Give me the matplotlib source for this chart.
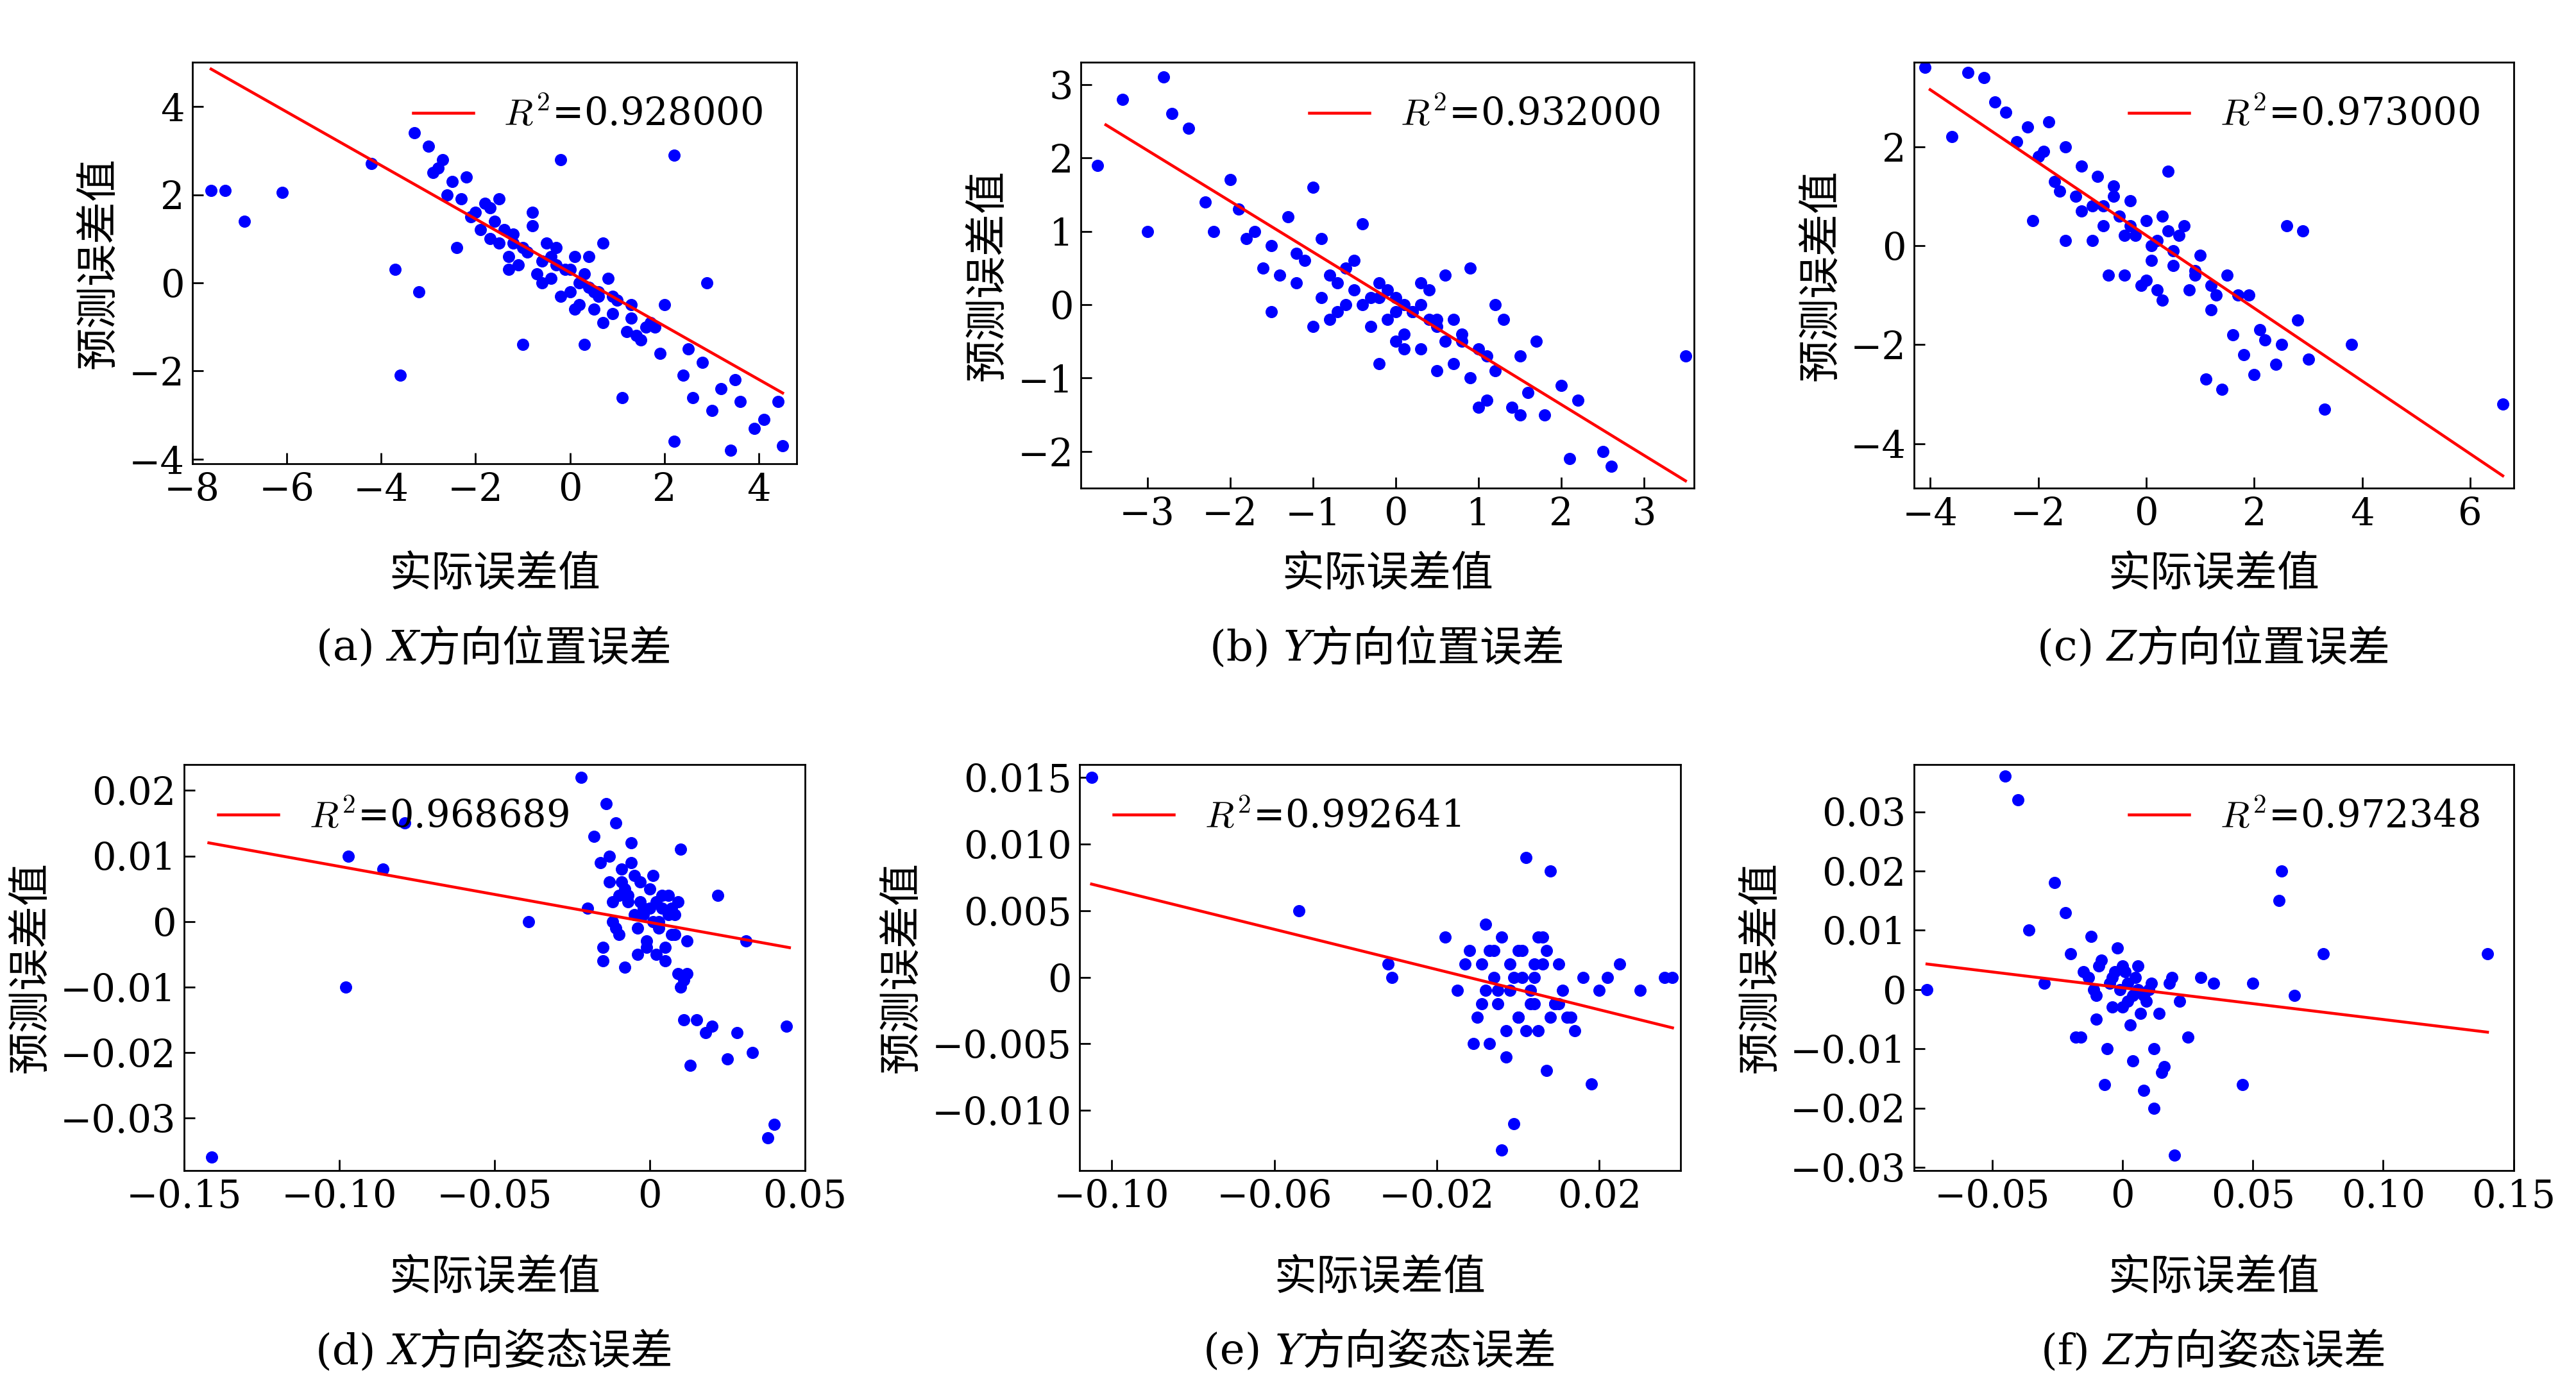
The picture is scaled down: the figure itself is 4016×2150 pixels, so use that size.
import matplotlib.pyplot as plt
from matplotlib.offsetbox import TextArea, HPacker, AnchoredOffsetbox

plt.rcParams['font.family'] = ['DejaVu Serif', 'Noto Sans CJK SC']
plt.rcParams['mathtext.fontset'] = 'cm'
plt.rcParams['font.size'] = 17

# panel (a) X position
xa = [-7.6, -7.3, -6.9, -6.1, -4.2, -3.7, -3.6, -3.2, -3.3, -3.0, -2.9, -2.7, -2.6, -2.5, -2.3, -2.2, -2.0, -1.9,
      -1.8, -1.7, -1.6, -1.5, -1.4, -1.3, -1.2, -1.1, -1.0, -0.9, -0.8, -0.7, -0.6, -0.5, -0.4, -0.3, -0.2, -0.1,
      0.0, 0.1, 0.2, 0.3, 0.4, 0.5, 0.6, 0.7, 0.8, 0.9, 1.0, 1.2, 1.3, 1.5, 1.7, 1.9, 2.0, 2.2, 2.2, 2.4, 2.6,
      2.8, 3.0, 3.2, 3.4, 3.6, 3.9, 4.1, 4.4, 4.5, -1.5, -0.8, 0.3, 1.1, -2.4, 0.7, -0.2, 1.8, 2.9, 0.5, -1.0,
      -2.8, -2.1, -1.7, -1.2, -0.6, -0.3, 0.0, 0.2, 0.4, 0.6, 0.9, 1.3, 1.6, -0.4, 0.1, -1.3, 1.4, 2.5, 3.5]
ya = [2.1, 2.1, 1.4, 2.05, 2.7, 0.3, -2.1, -0.2, 3.4, 3.1, 2.5, 2.8, 2.0, 2.3, 1.9, 2.4, 1.6, 1.2,
      1.8, 1.0, 1.4, 0.9, 1.2, 0.6, 1.1, 0.4, 0.8, 0.7, 1.6, 0.2, 0.5, 0.9, 0.1, 0.4, -0.3, 0.3,
      -0.2, 0.6, -0.5, 0.2, -0.1, -0.6, -0.3, -0.9, 0.1, -0.7, -0.4, -1.1, -0.8, -1.3, -0.9, -1.6, -0.5, 2.9, -3.6, -2.1, -2.6,
      -1.8, -2.9, -2.4, -3.8, -2.7, -3.3, -3.1, -2.7, -3.7, 1.9, 1.3, -1.4, -2.6, 0.8, 0.9, 2.8, -1.0, 0.0, -0.2, -1.4,
      2.6, 1.5, 1.7, 0.9, 0.0, 0.8, 0.3, 0.0, 0.6, -0.2, -0.3, -0.5, -1.0, 0.6, -0.6, 0.3, -1.2, -1.5, -2.2]

# panel (b) Y position
xb = [-3.6, -3.3, -3.0, -2.8, -2.7, -2.5, -2.3, -2.2, -2.0, -1.9, -1.8, -1.7, -1.6, -1.5, -1.4, -1.3, -1.2, -1.1,
      -1.0, -0.9, -0.8, -0.7, -0.6, -0.5, -0.4, -0.3, -0.2, -0.1, 0.0, 0.1, 0.2, 0.3, 0.4, 0.5, 0.6, 0.7, 0.8,
      0.9, 1.0, 1.1, 1.2, 1.3, 1.4, 1.5, 1.6, 1.7, 1.8, 2.0, 2.1, 2.2, 2.5, 2.6, 3.5, -1.0, -0.5, 0.0, 0.5, 1.0,
      -0.8, 0.3, 0.7, -0.2, 1.2, -1.5, 0.9, -0.4, 0.1, 1.5, -0.9, 0.6,
      -0.3, -0.1, 0.2, 0.4, -0.6, 0.0, 0.3, -0.2, 0.8, 0.5, -0.7, 1.1, -1.2, 0.1]
yb = [1.9, 2.8, 1.0, 3.1, 2.6, 2.4, 1.4, 1.0, 1.7, 1.3, 0.9, 1.0, 0.5, 0.8, 0.4, 1.2, 0.3, 0.6,
      1.6, 0.1, 0.4, -0.1, 0.5, 0.2, 0.0, -0.3, 0.3, -0.2, 0.1, -0.4, -0.1, -0.6, 0.2, -0.3, -0.5, -0.8, -0.4,
      -1.0, -0.6, -1.3, -0.9, -0.2, -1.4, -0.7, -1.2, -0.5, -1.5, -1.1, -2.1, -1.3, -2.0, -2.2, -0.7, -0.3, 0.6, -0.5, -0.9, -1.4,
      -0.2, 0.3, -0.2, -0.8, 0.0, -0.1, 0.5, 1.1, -0.6, -1.5, 0.9, 0.4,
      0.1, 0.2, -0.1, -0.2, 0.0, -0.1, 0.0, 0.1, -0.5, -0.2, 0.3, -0.7, 0.7, 0.0]

# panel (c) Z position
xc = [-4.1, -3.6, -3.3, -3.0, -2.8, -2.6, -2.4, -2.2, -2.0, -1.8, -1.7, -1.5, -1.3, -1.2, -1.0, -0.9, -0.8, -0.6,
      -0.5, -0.4, -0.3, -0.2, -0.1, 0.0, 0.1, 0.2, 0.3, 0.4, 0.5, 0.6, 0.8, 0.9, 1.0, 1.2, 1.3, 1.5, 1.6, 1.8,
      1.9, 2.0, 2.2, 2.4, 2.6, 2.8, 3.0, 3.3, 3.8, 6.6, -1.5, -0.7, 0.2, 1.1, 2.5, -2.1, 0.7, -1.0, 1.7, 0.0,
      -0.6, 2.1, 0.4, 1.4, -1.2, 2.9, -0.3, 0.1, -0.8, 0.5, -1.6, 0.9, -0.4, 0.3, 1.2, -1.9]
yc = [3.6, 2.2, 3.5, 3.4, 2.9, 2.7, 2.1, 2.4, 1.8, 2.5, 1.3, 2.0, 1.0, 1.6, 0.8, 1.4, 0.4, 1.2,
      0.6, -0.6, 0.9, 0.2, -0.8, 0.5, -0.3, 0.1, -1.1, 0.3, -0.4, 0.2, -0.9, -0.6, -0.2, -1.3, -1.0, -0.6, -1.8, -2.2,
      -1.0, -2.6, -1.9, -2.4, 0.4, -1.5, -2.3, -3.3, -2.0, -3.2, 0.1, -0.6, -0.9, -2.7, -2.0, 0.5, 0.4, 0.1, -1.0, -0.7,
      1.0, -1.7, 1.5, -2.9, 0.7, 0.3, 0.4, 0.0, 0.8, -0.1, 1.1, -0.5, 0.2, 0.6, -0.8, 1.9]

# panel (d) X attitude
xd = [-0.141, -0.098, -0.097, -0.086, -0.079, -0.039, -0.022, -0.020, -0.018, -0.016, -0.015, -0.014, -0.013,
      -0.012, -0.011, -0.010, -0.009, -0.008, -0.007, -0.006, -0.005, -0.004, -0.003, -0.002, -0.001, 0.000,
      0.001, 0.002, 0.003, 0.004, 0.005, 0.006, 0.007, 0.008, 0.009, 0.010, 0.011, 0.012, 0.013, 0.015, 0.018,
      0.020, 0.022, 0.025, 0.028, 0.031, 0.033, 0.038, 0.040, 0.044, -0.015, -0.010, -0.005, 0.000, 0.005, 0.010,
      -0.012, -0.002, 0.003, 0.008, -0.007, 0.012, -0.004, -0.013, -0.009, -0.006, -0.003, 0.001, 0.004, 0.006,
      0.009, -0.001, 0.002, 0.007, -0.011, 0.011, -0.008]
yd = [-0.036, -0.010, 0.010, 0.008, 0.015, 0.000, 0.022, 0.002, 0.013, 0.009, -0.004, 0.018, 0.006,
      0.003, 0.015, -0.002, 0.008, -0.007, 0.004, 0.012, 0.001, -0.005, 0.006, 0.002, -0.003, 0.005,
      0.000, 0.003, -0.001, 0.002, -0.006, 0.004, -0.002, 0.001, -0.008, 0.011, -0.015, -0.003, -0.022, -0.015, -0.017,
      -0.016, 0.004, -0.021, -0.017, -0.003, -0.020, -0.033, -0.031, -0.016, -0.006, 0.004, 0.007, 0.002, -0.004, -0.010,
      0.000, 0.001, 0.000, -0.002, 0.003, -0.008, -0.001, 0.010, 0.006, 0.009, 0.003, 0.007, 0.004, 0.001,
      0.003, -0.004, -0.005, 0.002, -0.001, -0.009, 0.005]

# panel (e) Y attitude
xe = [-0.105, -0.054, -0.032, -0.031, -0.018, -0.015, -0.013, -0.012, -0.010, -0.009, -0.008, -0.007, -0.006,
      -0.005, -0.004, -0.003, -0.002, -0.001, 0.000, 0.001, 0.002, 0.003, 0.004, 0.005, 0.006, 0.007, 0.008,
      0.009, 0.010, 0.012, 0.014, 0.016, 0.018, 0.020, 0.022, 0.025, 0.030, 0.036, 0.038, -0.008, -0.004, 0.000,
      0.004, 0.008, -0.011, 0.002, 0.006, -0.002, 0.010, -0.006, 0.013, 0.001,
      -0.009, -0.005, -0.001, 0.003, 0.007, 0.011, -0.003, 0.005, 0.009, -0.007, 0.000, 0.004]
ye = [0.015, 0.005, 0.001, 0.000, 0.003, -0.001, 0.001, 0.002, -0.003, 0.001, 0.004, -0.005, 0.002,
      -0.002, 0.003, -0.006, 0.001, -0.011, -0.003, 0.002, 0.009, -0.001, 0.000, -0.004, 0.003, -0.007, 0.008,
      -0.002, 0.001, -0.003, -0.004, 0.000, -0.008, -0.001, 0.000, 0.001, -0.001, 0.000, 0.000, -0.001, -0.013, 0.002,
      -0.002, -0.003, -0.005, -0.004, 0.001, -0.001, -0.002, 0.000, -0.003, 0.000,
      -0.002, -0.001, 0.000, -0.002, 0.002, -0.001, -0.004, 0.003, -0.002, 0.002, -0.003, 0.001]

# panel (f) Z attitude
xf = [-0.075, -0.045, -0.040, -0.036, -0.030, -0.026, -0.022, -0.020, -0.018, -0.015, -0.012, -0.010, -0.008,
      -0.006, -0.004, -0.002, 0.000, 0.002, 0.004, 0.006, 0.008, 0.010, 0.012, 0.014, 0.016, 0.018, 0.020,
      0.022, 0.025, 0.030, 0.035, 0.046, 0.050, 0.060, 0.061, 0.066, 0.077, 0.140, -0.010, -0.003, 0.003, 0.009,
      -0.016, 0.006, 0.012, -0.007, 0.000, 0.004, 0.015, 0.019,
      -0.013, -0.009, -0.005, -0.001, 0.002, 0.005, 0.008, 0.011, -0.004, 0.001, 0.007, -0.011]
yf = [0.000, 0.036, 0.032, 0.010, 0.001, 0.018, 0.013, 0.006, -0.008, 0.003, 0.009, -0.001, 0.005,
      -0.010, 0.002, 0.007, -0.003, 0.001, -0.012, 0.004, -0.017, 0.000, -0.020, -0.004, -0.013, 0.001, -0.028,
      -0.002, -0.008, 0.002, 0.001, -0.016, 0.001, 0.015, 0.020, -0.001, 0.006, 0.006, -0.005, 0.003, -0.006, -0.002,
      -0.008, 0.000, -0.010, -0.016, 0.004, -0.001, -0.014, 0.002,
      0.002, 0.004, 0.001, 0.000, -0.002, 0.002, -0.001, 0.001, -0.003, 0.003, -0.004, 0.000]

fit_x = [(-7.6, 4.5), (-3.5, 3.5), (-4.0, 6.6), (-0.142, 0.045), (-0.105, 0.038), (-0.075, 0.14)]
fit_y = [(4.85, -2.5), (2.45, -2.4), (3.15, -4.65), (0.012, -0.004), (0.007, -0.0038), (0.0043, -0.0072)]
r2 = ['0.928000', '0.932000', '0.973000', '0.968689', '0.992641', '0.972348']
cap_tag = ['(a) ', '(b) ', '(c) ', '(d) ', '(e) ', '(f) ']
cap_axis = ['X', 'Y', 'Z', 'X', 'Y', 'Z']
cap_text = ['方向位置误差'] * 3 + ['方向姿态误差'] * 3
xs = [xa, xb, xc, xd, xe, xf]
ys = [ya, yb, yc, yd, ye, yf]

W, H = 1568.0, 839.0
boxes = [(117, 38, 485, 282), (658, 38, 1031, 297), (1165, 38, 1530, 297),
         (112, 465, 490, 712), (657, 465, 1023, 712), (1165, 465, 1530, 712)]
xlab_y = [350, 350, 350, 778, 778, 778]
cap_y = [395, 395, 395, 823, 823, 823]
xlims = [(-8, 4.8), (-3.8, 3.6), (-4.3, 6.8), (-0.145, 0.047), (-0.108, 0.04), (-0.08, 0.145)]
ylims = [(-4.1, 5.0), (-2.5, 3.3), (-4.9, 3.7), (-0.038, 0.024), (-0.0145, 0.016), (-0.0305, 0.038)]
xticks = [[-8, -6, -4, -2, 0, 2, 4], [-3, -2, -1, 0, 1, 2, 3], [-4, -2, 0, 2, 4, 6],
          [-0.15, -0.10, -0.05, 0, 0.05], [-0.10, -0.06, -0.02, 0.02], [-0.05, 0, 0.05, 0.10, 0.15]]
xtl = [None, None, None, ['−0.15', '−0.10', '−0.05', '0', '0.05'], ['−0.10', '−0.06', '−0.02', '0.02'],
       ['−0.05', '0', '0.05', '0.10', '0.15']]
yticks = [[-4, -2, 0, 2, 4], [-2, -1, 0, 1, 2, 3], [-4, -2, 0, 2],
          [-0.03, -0.02, -0.01, 0, 0.01, 0.02], [-0.010, -0.005, 0, 0.005, 0.010, 0.015],
          [-0.03, -0.02, -0.01, 0, 0.01, 0.02, 0.03]]
ytl = [None, None, None, ['−0.03', '−0.02', '−0.01', '0', '0.01', '0.02'],
       ['−0.010', '−0.005', '0', '0.005', '0.010', '0.015'],
       ['−0.03', '−0.02', '−0.01', '0', '0.01', '0.02', '0.03']]
legloc = ['upper right', 'upper right', 'upper right', 'upper left', 'upper left', 'upper right']

fig = plt.figure(figsize=(16.064, 8.6), dpi=250)
for i in range(6):
    l, t, r, b = boxes[i]
    ax = fig.add_axes([l / W, 1 - b / H, (r - l) / W, (b - t) / H])
    ax.scatter(xs[i], ys[i], s=20, color='blue', zorder=2)
    ax.plot(fit_x[i], fit_y[i], color='red', lw=1.3, label=r'$R^2$=' + r2[i], zorder=3)
    ax.set_xlim(xlims[i])
    ax.set_ylim(ylims[i])
    ax.set_xticks(xticks[i])
    ax.set_yticks(yticks[i])
    if xtl[i]:
        ax.set_xticklabels(xtl[i])
    if ytl[i]:
        ax.set_yticklabels(ytl[i])
    ax.tick_params(direction='in', length=5, labelsize=17)
    ax.set_ylabel('预测误差值', fontsize=19)
    ax.legend(loc=legloc[i], frameon=False, fontsize=17, handlelength=1.6)
    cx = (l + r) / 2 / W
    fig.text(cx, 1 - xlab_y[i] / H, '实际误差值', ha='center', va='center', fontsize=19)
    parts = [TextArea(cap_tag[i], textprops=dict(fontsize=19)),
             TextArea(cap_axis[i], textprops=dict(fontsize=19, style='italic')),
             TextArea(cap_text[i], textprops=dict(fontsize=19))]
    box = HPacker(children=parts, align='baseline', pad=0, sep=0)
    anc = AnchoredOffsetbox(loc='center', child=box, frameon=False, pad=0, borderpad=0,
                            bbox_to_anchor=(cx, 1 - cap_y[i] / H), bbox_transform=fig.transFigure)
    fig.add_artist(anc)

fig.savefig('out.png')
